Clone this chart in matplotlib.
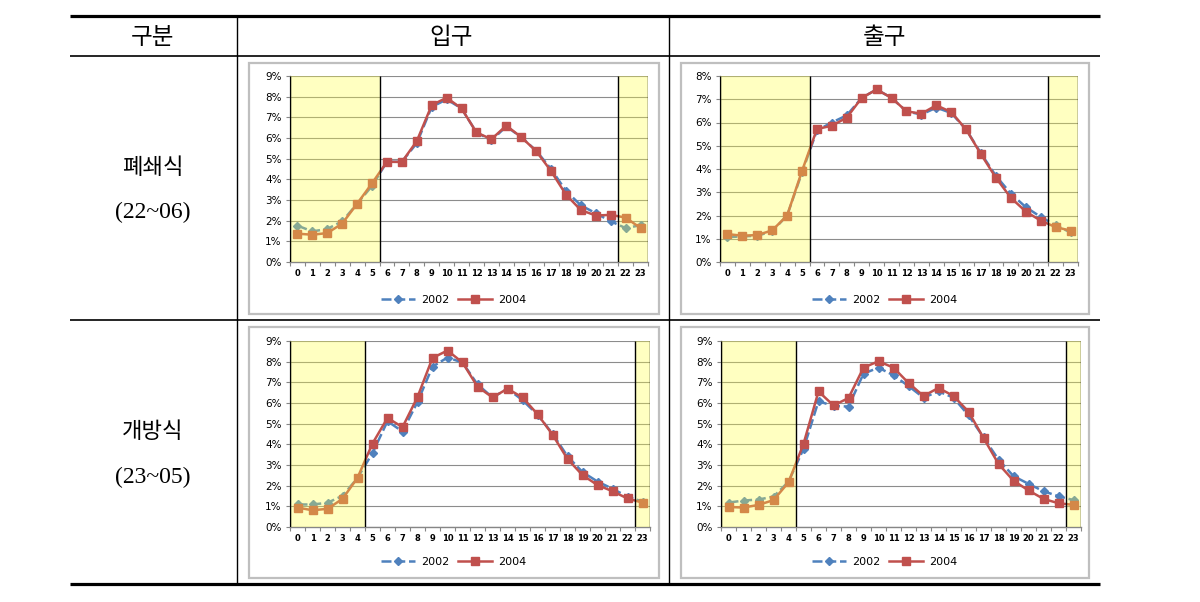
import matplotlib
matplotlib.use('Agg')
import matplotlib.pyplot as plt
from matplotlib.patches import Rectangle
from matplotlib.ticker import FixedLocator, FuncFormatter

# ---------------- data ----------------
hours = list(range(24))
hour_labels = [str(h) for h in hours]
series_names = ['2002', '2004']

col_headers = ['구분', '입구', '출구']
row_titles = ['폐쇄식', '개방식']
row_subtitles = ['(22~06)', '(23~05)']

# 입구 / 폐쇄식
in_closed_2002 = [1.76, 1.48, 1.60, 1.97, 2.82, 3.68, 4.85, 4.85, 5.75, 7.50, 7.87, 7.43,
                  6.27, 5.88, 6.56, 6.04, 5.39, 4.50, 3.44, 2.74, 2.36, 1.97, 1.64, 1.78]
in_closed_2004 = [1.37, 1.32, 1.40, 1.86, 2.82, 3.81, 4.85, 4.84, 5.85, 7.59, 7.95, 7.43,
                  6.27, 5.94, 6.60, 6.04, 5.37, 4.40, 3.26, 2.51, 2.25, 2.28, 2.15, 1.64]
# 출구 / 폐쇄식
out_closed_2002 = [1.07, 1.10, 1.13, 1.32, 2.00, 3.85, 5.66, 6.00, 6.31, 7.06, 7.42, 7.06,
                   6.48, 6.34, 6.64, 6.41, 5.70, 4.67, 3.70, 2.94, 2.36, 1.94, 1.58, 1.27]
out_closed_2004 = [1.20, 1.13, 1.16, 1.36, 2.00, 3.92, 5.72, 5.86, 6.21, 7.06, 7.42, 7.06,
                   6.48, 6.38, 6.74, 6.45, 5.70, 4.63, 3.62, 2.76, 2.17, 1.78, 1.50, 1.35]
# 입구 / 개방식
in_open_2002 = [1.09, 1.09, 1.17, 1.51, 2.37, 3.58, 5.12, 4.62, 6.05, 7.76, 8.20, 7.96,
                6.90, 6.27, 6.69, 6.14, 5.43, 4.52, 3.42, 2.66, 2.20, 1.85, 1.47, 1.23]
in_open_2004 = [0.94, 0.81, 0.88, 1.36, 2.38, 4.04, 5.28, 4.83, 6.29, 8.18, 8.54, 7.96,
                6.79, 6.27, 6.69, 6.27, 5.46, 4.47, 3.29, 2.51, 2.03, 1.73, 1.38, 1.18]
# 출구 / 개방식
out_open_2002 = [1.18, 1.28, 1.33, 1.47, 2.19, 3.78, 6.09, 5.85, 5.83, 7.42, 7.71, 7.34,
                 6.82, 6.26, 6.56, 6.26, 5.40, 4.34, 3.26, 2.46, 2.09, 1.73, 1.49, 1.30]
out_open_2004 = [0.97, 0.94, 1.07, 1.30, 2.16, 4.02, 6.56, 5.88, 6.24, 7.71, 8.02, 7.71,
                 6.97, 6.34, 6.73, 6.34, 5.58, 4.31, 3.05, 2.24, 1.77, 1.36, 1.15, 1.07]

closed_night = [(-0.5, 5.5), (21.5, 23.5)]
open_night = [(-0.5, 4.5), (22.5, 23.5)]

# ---------------- layout ----------------
W, H = 1200, 602
fig = plt.figure(figsize=(12, 6.02), dpi=100)
bg = fig.add_axes([0, 0, 1, 1], zorder=0)
bg.set_xlim(0, W)
bg.set_ylim(H, 0)
bg.axis('off')

def frac(x0, y0, x1, y1):
    return [x0 / W, 1 - y1 / H, (x1 - x0) / W, (y1 - y0) / H]

# table lines
TL, TR = 70, 1100
bg.plot([TL, TR], [16, 16], color='black', lw=2.3, solid_capstyle='butt')
bg.plot([TL, TR], [56, 56], color='black', lw=1.2, solid_capstyle='butt')
bg.plot([TL, TR], [320, 320], color='black', lw=1.2, solid_capstyle='butt')
bg.plot([TL, TR], [584, 584], color='black', lw=2.3, solid_capstyle='butt')
for xv in (237, 669):
    bg.plot([xv, xv], [16, 584], color='black', lw=1.0)

kfont = ['Noto Sans CJK KR', 'DejaVu Sans']
bg.text(153, 37, col_headers[0], ha='center', va='center', fontsize=17, family=kfont)
bg.text(451, 37, col_headers[1], ha='center', va='center', fontsize=17, family=kfont)
bg.text(884, 37, col_headers[2], ha='center', va='center', fontsize=17, family=kfont)
for i, yc in enumerate([167, 432]):
    bg.text(153, yc, row_titles[i], ha='center', va='center', fontsize=16,
            family=kfont, fontweight='light')
    bg.text(153, yc + 45, row_subtitles[i], ha='center', va='center', fontsize=17,
            family=['Liberation Serif'])

BLUE = '#4F81BD'
RED = '#C0504D'

charts = [
    dict(frame=(249, 63, 659, 314), plot=(290, 76, 648, 262), ymax=9,
         d02=in_closed_2002, d04=in_closed_2004, shades=closed_night, leg_y=300),
    dict(frame=(681, 63, 1089, 314), plot=(720, 76, 1078, 262), ymax=8,
         d02=out_closed_2002, d04=out_closed_2004, shades=closed_night, leg_y=300),
    dict(frame=(249, 327, 659, 578), plot=(290, 341, 650, 527), ymax=9,
         d02=in_open_2002, d04=in_open_2004, shades=open_night, leg_y=562),
    dict(frame=(681, 327, 1089, 578), plot=(721, 341, 1081, 527), ymax=9,
         d02=out_open_2002, d04=out_open_2004, shades=open_night, leg_y=562),
]

for c in charts:
    fx0, fy0, fx1, fy1 = c['frame']
    bg.add_patch(Rectangle((fx0, fy0), fx1 - fx0, fy1 - fy0, facecolor='white',
                           edgecolor='#BFBFBF', lw=1.6))
    ax = fig.add_axes(frac(*c['plot']), zorder=2)
    ax.patch.set_alpha(0)
    ax.set_xlim(-0.5, 23.5)
    ax.set_ylim(0, c['ymax'])
    ax.yaxis.set_major_locator(FixedLocator(list(range(0, c['ymax'] + 1))))
    ax.yaxis.set_major_formatter(FuncFormatter(lambda v, p: f'{int(round(v))}%'))
    ax.grid(axis='y', color='#8C8C8C', lw=0.8, zorder=0)
    ax.set_axisbelow(True)
    ax.set_xticks([h - 0.5 for h in hours] + [23.5])
    ax.set_xticklabels([])
    ax.set_xticks(hours, minor=True)
    ax.set_xticklabels(hour_labels, minor=True, fontsize=6, fontweight='bold')
    ax.tick_params(axis='x', which='minor', length=0, pad=5)
    ax.tick_params(axis='x', which='major', length=3, color='#868686')
    ax.tick_params(axis='y', length=3, color='#868686', labelsize=7.5, pad=3)
    for s in ('top', 'right'):
        ax.spines[s].set_visible(False)
    for s in ('left', 'bottom'):
        ax.spines[s].set_color('#868686')
        ax.spines[s].set_linewidth(1.0)

    ax.plot(hours, c['d02'], color=BLUE, lw=1.8, ls=(0, (4, 1.5)), marker='D', ms=3.8,
            mec=BLUE, mfc=BLUE, label=series_names[0], zorder=3)
    ax.plot(hours, c['d04'], color=RED, lw=1.8, ls='-', marker='s', ms=6,
            mec=RED, mfc=RED, label=series_names[1], zorder=4)

    for (a, b) in c['shades']:
        ax.add_patch(Rectangle((a, 0), b - a, c['ymax'], facecolor=(1, 1, 0.25),
                               alpha=0.32, edgecolor='none', zorder=5))
        ax.vlines([a, b], 0, c['ymax'], colors='black', lw=1.0, zorder=6)

    cx = (fx0 + fx1) / 2
    ax.legend(loc='center', bbox_to_anchor=(cx / W, 1 - c['leg_y'] / H),
              bbox_transform=fig.transFigure, ncol=2, frameon=False, fontsize=8,
              handlelength=3, handletextpad=0.6, columnspacing=0.8)

fig.savefig('out.png', dpi=100)
